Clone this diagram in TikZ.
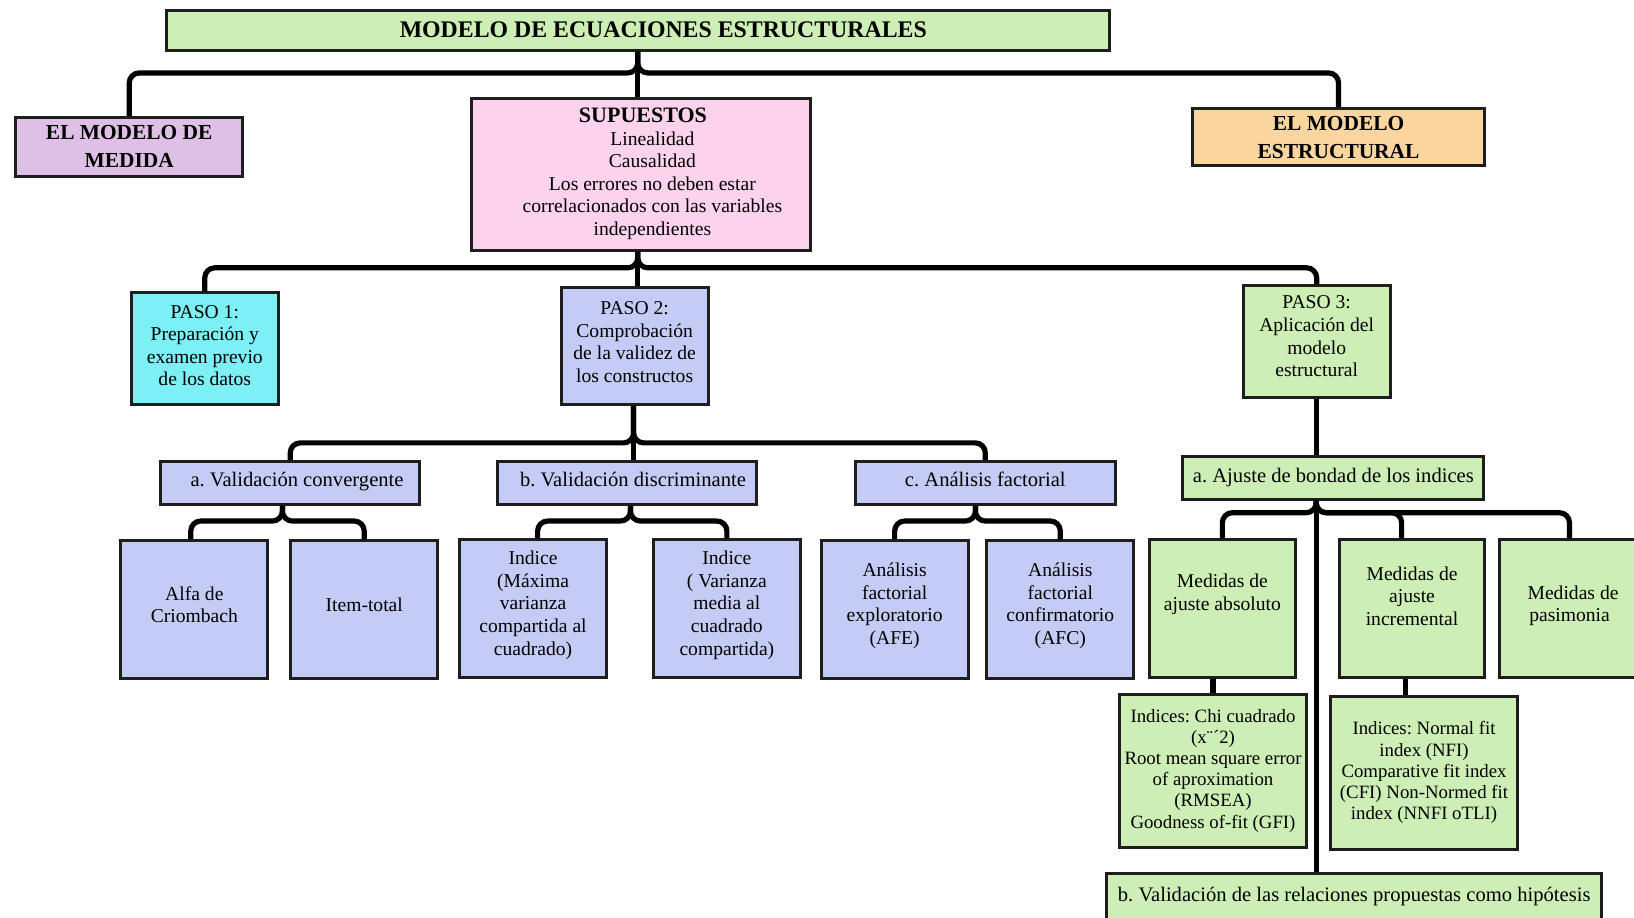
\documentclass[tikz,border=0pt]{standalone}
\usepackage{fontspec}
\setmainfont{Liberation Serif}
\frenchspacing
\definecolor{cgreen}{RGB}{205,239,182}
\definecolor{cblue}{RGB}{196,204,246}
\definecolor{cpink}{RGB}{252,210,236}
\definecolor{clav}{RGB}{222,192,230}
\definecolor{corange}{RGB}{250,213,158}
\definecolor{ccyan}{RGB}{124,240,245}
\definecolor{cedge}{RGB}{30,30,30}
% extra depth below the last line, lifts a centred text block
\newcommand\lift[1]{\rule[-#1]{0pt}{0pt}}
\begin{document}
\begin{tikzpicture}[x=0.521pt,y=-0.521pt,
  box/.style={draw=cedge, line width=1.5pt, align=center, inner sep=1pt,
    font=\fontsize{9.8}{11.3}\selectfont},
  sz/.style 2 args={minimum width=#1*0.521pt, minimum height=#2*0.521pt},
  head/.style={font=\bfseries\fontsize{10.7}{14}\selectfont},
  lbl/.style={font=\fontsize{10.3}{12}\selectfont},
  small/.style={font=\fontsize{9.4}{10.6}\selectfont},
  conn/.style={draw=black, line width=2.6pt, rounded corners=5pt}]
\useasboundingbox (0,0) rectangle (1568,880);
\clip (0,0) rectangle (1568,880);

% top level
\node[box, sz={905}{38}, fill=cgreen, font=\bfseries\fontsize{11.9}{14}\selectfont] (title) at (612.5,29)
  {\hspace*{25pt}MODELO DE ECUACIONES ESTRUCTURALES};
\node[box, sz={218}{56}, fill=clav, head] (medida) at (124,141) {EL MODELO DE\\MEDIDA};
\node[box, sz={326}{145}, fill=cpink] (sup) at (615,167.5)
  {\hspace*{11.5pt}\begin{tabular}{@{}c@{}}
   {\bfseries\fontsize{11}{12}\selectfont SUPUESTOS}\hspace*{9.4pt}\\Linealidad\\Causalidad\\
   Los errores no deben estar\\correlacionados con las variables\\independientes\end{tabular}\lift{5pt}};
\node[box, sz={281}{55}, fill=corange, head] (estr) at (1284.5,131.5) {EL MODELO\\ESTRUCTURAL};

% steps
\node[box, sz={141}{107}, fill=ccyan] (paso1) at (196.5,334.5) {PASO 1:\\Preparación y\\examen previo\\de los datos\lift{3pt}};
\node[box, sz={141}{112}, fill=cblue] (paso2) at (609,332) {PASO 2:\\Comprobación\\de la validez de\\los constructos\lift{4pt}};
\node[box, sz={141}{107}, fill=cgreen] (paso3) at (1263.5,327.5) {PASO 3:\\Aplicación del\\modelo\\estructural\lift{5pt}};

% validation headings
\node[box, sz={249}{41}, fill=cblue, lbl] (va) at (278.5,463.5) {\hspace*{6.8pt}a. Validación convergente\lift{3.5pt}};
\node[box, sz={249}{41}, fill=cblue, lbl] (vb) at (601.5,463.5) {\hspace*{6.2pt}b. Validación discriminante\lift{3.5pt}};
\node[box, sz={249}{41}, fill=cblue, lbl] (vc) at (945.5,463.5) {c. Análisis factorial\lift{3.5pt}};
\node[box, sz={289}{41}, fill=cgreen, lbl] (aj) at (1279.5,458.5) {a. Ajuste de bondad de los indices};

% leaves
\node[box, sz={141}{132}, fill=cblue] (alfa) at (186.5,585) {Alfa de\\Criombach\lift{5pt}};
\node[box, sz={141}{132}, fill=cblue] (item) at (349.5,585) {Item-total\lift{5pt}};
\node[box, sz={141}{132}, fill=cblue] (ind1) at (511.5,584) {Indice\\(Máxima\\varianza\\compartida al\\cuadrado)\lift{5.5pt}};
\node[box, sz={141}{132}, fill=cblue] (ind2) at (697.5,584) {Indice\\( Varianza\\media al\\cuadrado\\compartida)\lift{5.5pt}};
\node[box, sz={141}{132}, fill=cblue] (afe) at (858.5,585) {Análisis\\factorial\\exploratorio\\(AFE)\lift{6pt}};
\node[box, sz={141}{132}, fill=cblue] (afc) at (1017.5,585) {Análisis\\factorial\\confirmatorio\\(AFC)\lift{6pt}};
\node[box, sz={140}{132}, fill=cgreen] (mabs) at (1173,584) {Medidas de\\ajuste absoluto\lift{16.5pt}};
\node[box, sz={140}{132}, fill=cgreen] (minc) at (1355,584) {Medidas de\\ajuste\\incremental\lift{12.5pt}};
\node[box, sz={141}{132}, fill=cgreen] (mpas) at (1509.5,584) {Medidas de\\pasimonia\lift{5pt}\hspace*{3.5pt}};

\node[box, sz={180}{147}, fill=cgreen, small] (chi) at (1164,739.5)
  {Indices: Chi cuadrado\\(x¨´2)\\Root mean square error\\of aproximation\\(RMSEA)\\Goodness of-fit (GFI)};
\node[box, sz={179}{147}, fill=cgreen, small] (nfi) at (1366.5,741.5)
  {Indices: Normal fit\\index (NFI)\\Comparative fit index\\(CFI) Non-Normed fit\\index (NNFI oTLI)};
\node[box, sz={475}{44}, fill=cgreen, lbl] (vrel) at (1299.5,860)
  {b. Validación de las relaciones propuestas como hipótesis};

% junction points of the branching connectors
\coordinate (jt) at (612,70);
\coordinate (js) at (612,257);
\coordinate (jp) at (608,425);
\coordinate (jva) at (271,500);
\coordinate (jvb) at (605,500);
\coordinate (jvc) at (936,500);
\coordinate (jaj) at (1263,492);
\coordinate (cinc) at (1345,0);
\coordinate (cnfi) at (1349,0);

% connectors
\draw[conn] (medida.north) |- (jt) -- (jt |- title.south);
\draw[conn] (estr.north) |- (jt) -- (jt |- title.south);
\draw[conn] (jt |- title.south) -- (jt |- sup.north);

\draw[conn] (paso1.north) |- (js) -- (js |- sup.south);
\draw[conn] (paso3.north) |- (js) -- (js |- sup.south);
\draw[conn] (js |- sup.south) -- (js |- paso2.north);

\draw[conn] (va.north) |- (jp) -- (jp |- paso2.south);
\draw[conn] (vc.north) |- (jp) -- (jp |- paso2.south);
\draw[conn] (jp |- paso2.south) -- (jp |- vb.north);

\draw[conn] ([xshift=-1.8pt]alfa.north) |- (jva) -- (jva |- va.south);
\draw[conn] (item.north) |- (jva) -- (jva |- va.south);
\draw[conn] ([xshift=2.3pt]ind1.north) |- (jvb) -- (jvb |- vb.south);
\draw[conn] (ind2.north) |- (jvb) -- (jvb |- vb.south);
\draw[conn] (afe.north) |- (jvc) -- (jvc |- vc.south);
\draw[conn] (afc.north) |- (jvc) -- (jvc |- vc.south);

\draw[conn] (jaj |- paso3.south) -- (jaj |- aj.north);
\draw[conn] (mabs.north) |- (jaj) -- (jaj |- aj.south);
\draw[conn] (cinc |- minc.north) |- (jaj) -- (jaj |- aj.south);
\draw[conn] ([xshift=-1.8pt]mpas.north) |- (jaj) -- (jaj |- aj.south);
\draw[conn] (jaj |- aj.south) -- (jaj |- vrel.north);

\draw[conn] (chi.north) -- (chi.north |- mabs.south);
\draw[conn] (cnfi |- nfi.north) -- (cnfi |- minc.south);
\end{tikzpicture}
\end{document}
